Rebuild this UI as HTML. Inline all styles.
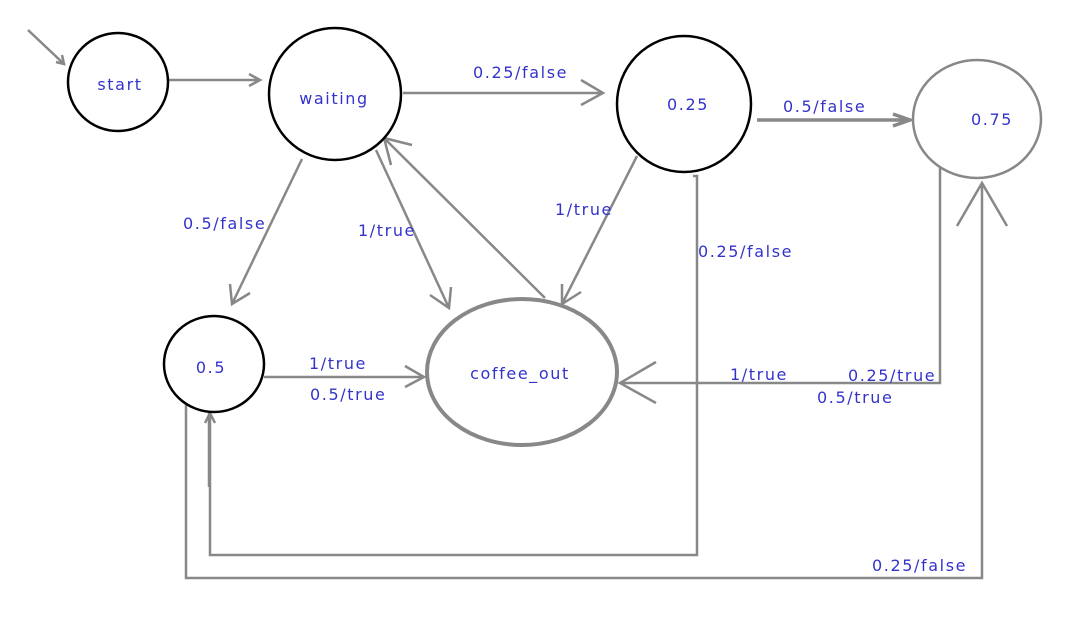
<!DOCTYPE html>
<html><head><meta charset="utf-8"><style>
html,body{margin:0;padding:0;background:#fff;}
svg{display:block;}
text{font-family:"DejaVu Sans","Liberation Sans",sans-serif;font-size:16px;fill:#3333cc;letter-spacing:1.6px;}
.e{fill:none;stroke:#888;stroke-width:2.5;}
.n{fill:#fff;stroke:#000;stroke-width:2.5;}
</style></head><body>
<svg width="1089" height="620" viewBox="0 0 1089 620" xmlns="http://www.w3.org/2000/svg">
<path class="e" d="M28 30 L64 64 M56 62 L64 64 L62 55"/>
<path class="e" d="M168 80 L260 80 M249 74 L260 80 L249 86"/>
<path class="e" d="M403 93 L603 93 M581 80 L603 93 L581 105"/>
<path class="e" style="stroke-width:3.5" d="M757 120 L910 120 M893 114 L910 120 L893 126"/>
<path class="e" d="M302 159 L232 304 M230 284 L232 304 L250 293"/>
<path class="e" d="M376 150 L449 308 M430 295 L449 308 L451 287"/>
<path class="e" d="M545 298 L384 138 M412 145 L384 138 L391 165"/>
<path class="e" d="M637 156 L562 304 M562 284 L562 304 L581 292"/>
<path class="e" d="M264 377 L424 377 M405 366 L424 377 L405 387"/>
<path class="e" d="M940 168 L940 383 L620 383 M656 362 L620 383 L656 403"/>
<path class="e" d="M693 176 L697 176 L697 555 L210 555 L210 413 M205 423 L210 413 L215 423 M209 413 L209 487"/>
<path class="e" d="M186 405 L186 578 L982 578 L982 183 M957 226 L982 183 L1007 226"/>
<ellipse class="n" cx="118" cy="82" rx="50" ry="49"/>
<ellipse class="n" cx="335" cy="94" rx="66" ry="66"/>
<ellipse class="n" cx="684" cy="104" rx="67" ry="68"/>
<ellipse class="n" cx="977" cy="119" rx="64" ry="59" style="stroke:#888"/>
<ellipse class="n" cx="214" cy="364" rx="50" ry="48"/>
<ellipse class="n" cx="522" cy="372" rx="95" ry="73" style="stroke:#888;stroke-width:4"/>
<text x="120" y="90" text-anchor="middle">start</text>
<text x="334" y="104" text-anchor="middle">waiting</text>
<text x="688" y="110" text-anchor="middle">0.25</text>
<text x="992" y="125" text-anchor="middle">0.75</text>
<text x="211" y="373" text-anchor="middle">0.5</text>
<text x="520" y="379" text-anchor="middle">coffee_out</text>
<text x="473" y="78">0.25/false</text>
<text x="183" y="229">0.5/false</text>
<text x="358" y="236">1/true</text>
<text x="555" y="215">1/true</text>
<text x="698" y="257">0.25/false</text>
<text x="783" y="112">0.5/false</text>
<text x="309" y="369">1/true</text>
<text x="310" y="400">0.5/true</text>
<text x="730" y="380">1/true</text>
<text x="848" y="381">0.25/true</text>
<text x="817" y="403">0.5/true</text>
<text x="872" y="571">0.25/false</text>
</svg>
</body></html>
